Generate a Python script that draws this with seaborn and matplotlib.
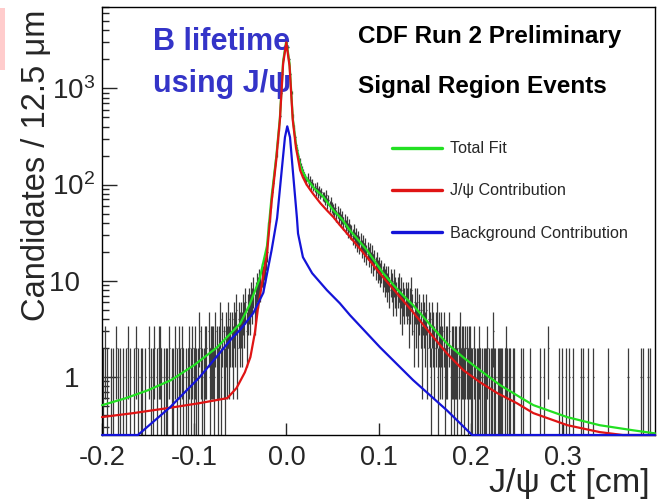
import numpy as np
import matplotlib
matplotlib.use("Agg")
import matplotlib.pyplot as plt
import seaborn as sns
from matplotlib.patches import Rectangle
from matplotlib.ticker import LogLocator, NullFormatter, FixedLocator

# ---------------- data ----------------
BIN_LO, BIN_HI, BIN_W = -0.2, 0.4, 0.00125
Y_MIN, Y_MAX = 0.25, 7000

# counts per 12.5 um bin, -0.200 .. -0.060
counts_neg_tail = [1,0,2,0,1,0,0,1,
                   0,1,0,0,2,1,0,1,
                   0,0,1,0,1,0,2,0,
                   1,0,0,1,0,2,0,1,
                   0,1,1,0,0,1,0,0,
                   2,0,1,0,1,2,0,1,
                   0,2,2,1,0,1,0,1,
                   1,0,2,0,1,1,0,2,
                   0,1,2,1,0,2,1,0,
                   1,0,1,2,0,1,2,1,
                   2,1,0,1,3,2,1,0,
                   1,2,2,0,3,1,2,2,
                   2,1,3,2,1,2,4,1,
                   3,2,1,3,2,4,2,3]
# -0.060 .. -0.020
counts_rise = [3,2,4,3,5,2,4,3,
               4,3,5,4,6,3,5,6,
               5,7,6,8,5,7,9,8,
               10,9,12,11,14,13,17,20]
# -0.020 .. 0.020
counts_peak = [35,48,65,84,105,135,170,210,290,380,520,900,1400,2000,2500,3000,
               3000,2700,2000,1400,900,520,400,310,255,230,200,175,155,145,135,125]
# 0.020 .. 0.200
counts_pos_tail = [118,110,121,105,112,98,104,95,
                   93,86,97,82,88,79,84,76,
                   75,70,78,64,69,60,66,58,
                   56,51,57,48,52,45,50,43,
                   46,40,43,37,41,34,38,33,
                   32,29,33,27,30,25,28,24,
                   26,22,25,20,23,19,21,18,
                   20,16,19,15,17,14,16,13,
                   14,12,13,11,12,10,11,9,
                   11,8,10,9,7,10,8,7,
                   8,9,6,8,5,7,6,7,
                   6,7,4,6,8,5,3,6,
                   4,6,3,5,4,2,5,4,
                   3,5,2,4,3,1,4,3,
                   2,3,4,1,3,2,3,2,
                   3,1,2,2,0,3,1,2,
                   2,1,2,2,1,2,3,1,
                   2,2,1,2,2,1,2,2]
# 0.200 .. 0.400
counts_far_tail = ([1,1,2,1,0,1,1,2,1,1,0,1,1,1,2,1,0,1,1,3,1,1,0,1,1,1] +
                   [1,1,0,1,2,1,0,1,1,0,1,1,0] +
                   [0,0,0,0] +
                   [1,0,1,0,0,0,0,0,1,0,0,0,0,0,0,0,0] +
                   [1,0,0,1,0,0,0,2,0,0,0,0,0,0,0,0] +
                   [1,0,0,1,0,0,1,0,0,1,0,0,1,0,0,0,0,0,0] +
                   [1,0,1,0,0,0,1,0,0,0,0,1,0,0,0,0,0,0,0,0,0,0,0,0] +
                   [1] + [0]*16 + [1] + [0]*10 + [1,0,1,0,0,0,1,0,1,0,0,0,0])

# fitted curves
green_x = [-0.200, -0.175, -0.150, -0.125, -0.100, -0.075, -0.050, -0.040, -0.029, -0.021,
           -0.016, -0.011, -0.007, -0.0035, 0.000, 0.0035, 0.007, 0.0105, 0.013, 0.015,
           0.018, 0.022, 0.026, 0.030, 0.0333, 0.040, 0.051, 0.060, 0.069, 0.0875,
           0.105, 0.1233, 0.1375, 0.156, 0.174, 0.192, 0.210, 0.232, 0.2535, 0.268,
           0.3045, 0.340, 0.376, 0.400]
green_y = [0.51, 0.60, 0.73, 0.93, 1.33, 2.04, 3.6, 5.6, 10.5, 23,
           75, 190, 490, 1900, 3150, 1800, 490, 260, 200, 160,
           135, 115, 103, 92, 86, 75, 54, 44, 33.5, 20.8,
           12.0, 7.6, 5.58, 3.5, 2.25, 1.6, 1.18, 0.824, 0.618, 0.511,
           0.384, 0.316, 0.28, 0.26]

red_x = [-0.200, -0.166, -0.129, -0.094, -0.064, -0.054, -0.045, -0.039, -0.034, -0.031,
         -0.026, -0.021, -0.016, -0.011, -0.007, -0.0035, 0.000, 0.0035, 0.007, 0.0105,
         0.013, 0.015, 0.018, 0.022, 0.026, 0.030, 0.037, 0.044, 0.051, 0.058,
         0.069, 0.0875, 0.105, 0.120, 0.1375, 0.156, 0.174, 0.192, 0.210, 0.229,
         0.250, 0.268, 0.305, 0.340, 0.365, 0.400]
red_y = [0.384, 0.422, 0.475, 0.536, 0.604, 0.77, 1.12, 1.61, 2.93, 5.0,
         10.0, 19, 66, 178, 466, 1800, 3000, 1700, 466, 240,
         180, 141, 119, 100, 88, 78, 64, 54, 46, 38,
         28.7, 17.6, 10.9, 7.4, 4.72, 2.86, 1.77, 1.18, 0.885, 0.68,
         0.536, 0.422, 0.316, 0.268, 0.25, 0.22]

blue_x = [-0.200, -0.161, -0.126, -0.094, -0.058, -0.050, -0.036, -0.025, -0.016, -0.010,
          -0.005, -0.0015, 0.001, 0.004, 0.007, 0.0115, 0.0127, 0.018, 0.028, 0.044,
          0.058, 0.069, 0.1016, 0.1375, 0.174, 0.2015, 0.250, 0.400]
blue_y = [0.12, 0.25, 0.487, 1.0, 2.6, 3.1, 4.6, 7.5, 20.8, 45,
          141, 310, 403, 310, 141, 45, 31, 17.6, 12.0, 8.0,
          5.85, 4.4, 2.04, 0.93, 0.453, 0.25, 0.08, 0.003]

x_ticks = [-0.2, -0.1, 0.0, 0.1, 0.2, 0.3]
x_tick_labels = ["-0.2", "-0.1", "0.0", "0.1", "0.2", "0.3"]
y_ticks = [1, 10, 100, 1000]
y_tick_labels = ["1\u2007", "10\u2007", r"$\mathdefault{10^{2}}$", r"$\mathdefault{10^{3}}$"]

legend_labels = ["Total Fit", "J/\u03c8 Contribution", "Background Contribution"]

# ---------------- style ----------------
sns.set_style("ticks")
plt.rcParams["font.family"] = ["Liberation Sans", "DejaVu Sans"]
plt.rcParams["axes.unicode_minus"] = False
plt.rcParams["mathtext.default"] = "regular"

GREEN, RED, BLUE = "#22e022", "#e01414", "#1414d8"
DATA_C = "#3c3c3c"

fig = plt.figure(figsize=(6.62, 5.01), dpi=100)
fig.patch.set_facecolor("white")
ax = fig.add_axes([102 / 662, 66 / 501, 553 / 662, 428 / 501])
ax.set_yscale("log")
ax.set_xlim(BIN_LO, BIN_HI)
ax.set_ylim(Y_MIN, Y_MAX)

# data points with Poisson errors
counts = np.array(counts_neg_tail + counts_rise + counts_peak + counts_pos_tail + counts_far_tail, dtype=float)
centers = BIN_LO + BIN_W * (np.arange(len(counts)) + 0.5)
nz = counts > 0
c, n = centers[nz], counts[nz]
err = np.sqrt(n)
ax.vlines(c, np.maximum(n - err, 1e-3), n + err, color=DATA_C, lw=0.9, zorder=2)
ax.hlines(n, c - BIN_W / 2, c + BIN_W / 2, color=DATA_C, lw=0.9, zorder=2)

# curves
sns.lineplot(x=green_x, y=np.maximum(green_y, Y_MIN), ax=ax, color=GREEN, lw=1.6,
             sort=False, estimator=None, label=legend_labels[0], zorder=3, clip_on=False)
sns.lineplot(x=red_x, y=np.maximum(red_y, Y_MIN), ax=ax, color=RED, lw=1.6,
             sort=False, estimator=None, label=legend_labels[1], zorder=4, clip_on=False)
sns.lineplot(x=blue_x, y=np.maximum(blue_y, Y_MIN), ax=ax, color=BLUE, lw=1.6,
             sort=False, estimator=None, label=legend_labels[2], zorder=5, clip_on=False)

# ticks
ax.xaxis.set_major_locator(FixedLocator(x_ticks))
ax.set_xticklabels(x_tick_labels)
ax.yaxis.set_major_locator(FixedLocator(y_ticks))
ax.set_yticklabels(y_tick_labels)
ax.yaxis.set_minor_locator(LogLocator(base=10, subs=np.arange(2, 10)))
ax.yaxis.set_minor_formatter(NullFormatter())
ax.tick_params(axis="y", which="major", direction="in", length=11, width=1, pad=5, labelsize=20, left=True, right=False)
ax.tick_params(axis="y", which="minor", direction="in", length=5, width=1, left=True, right=False)
ax.tick_params(axis="x", which="major", direction="in", length=8.5, width=1, pad=7, labelsize=19.5, top=False)
for s in ax.spines.values():
    s.set_linewidth(1.0)
    s.set_color("black")

# axis labels
ax.set_ylabel("Candidates / 12.5 \u03bcm", fontsize=23.5, loc="top")
ax.yaxis.set_label_coords(-0.090, 0.993)
ax.set_xlabel("J/\u03c8 ct [cm]", fontsize=24.5, loc="right")
ax.xaxis.set_label_coords(0.991, -0.078)

# annotations
ax.text(0.092, 0.8995, "B lifetime", transform=ax.transAxes, fontsize=22, fontweight="bold",
        color="#3434c8", va="baseline", ha="left")
ax.text(0.092, 0.801, "using J/\u03c8", transform=ax.transAxes, fontsize=22, fontweight="bold",
        color="#3434c8", va="baseline", ha="left")
ax.text(0.463, 0.916, "CDF Run 2 Preliminary", transform=ax.transAxes, fontsize=17.5,
        fontweight="bold", color="black", va="baseline", ha="left")
ax.text(0.463, 0.799, "Signal Region Events", transform=ax.transAxes, fontsize=17.5,
        fontweight="bold", color="black", va="baseline", ha="left")

leg = ax.legend(loc="upper left", bbox_to_anchor=(0.5244, 0.686), frameon=False, fontsize=11.6,
                handlelength=3.1, handletextpad=0.5, labelspacing=1.68, borderpad=0, borderaxespad=0)
for line in leg.get_lines():
    line.set_linewidth(2.4)

# small pink mark at the left edge of the picture
fig.patches.append(Rectangle((0, 1 - 70 / 501), 5 / 662, 62 / 501, transform=fig.transFigure,
                             facecolor="#ffcccc", edgecolor="none"))

fig.savefig("out.png", dpi=100)
